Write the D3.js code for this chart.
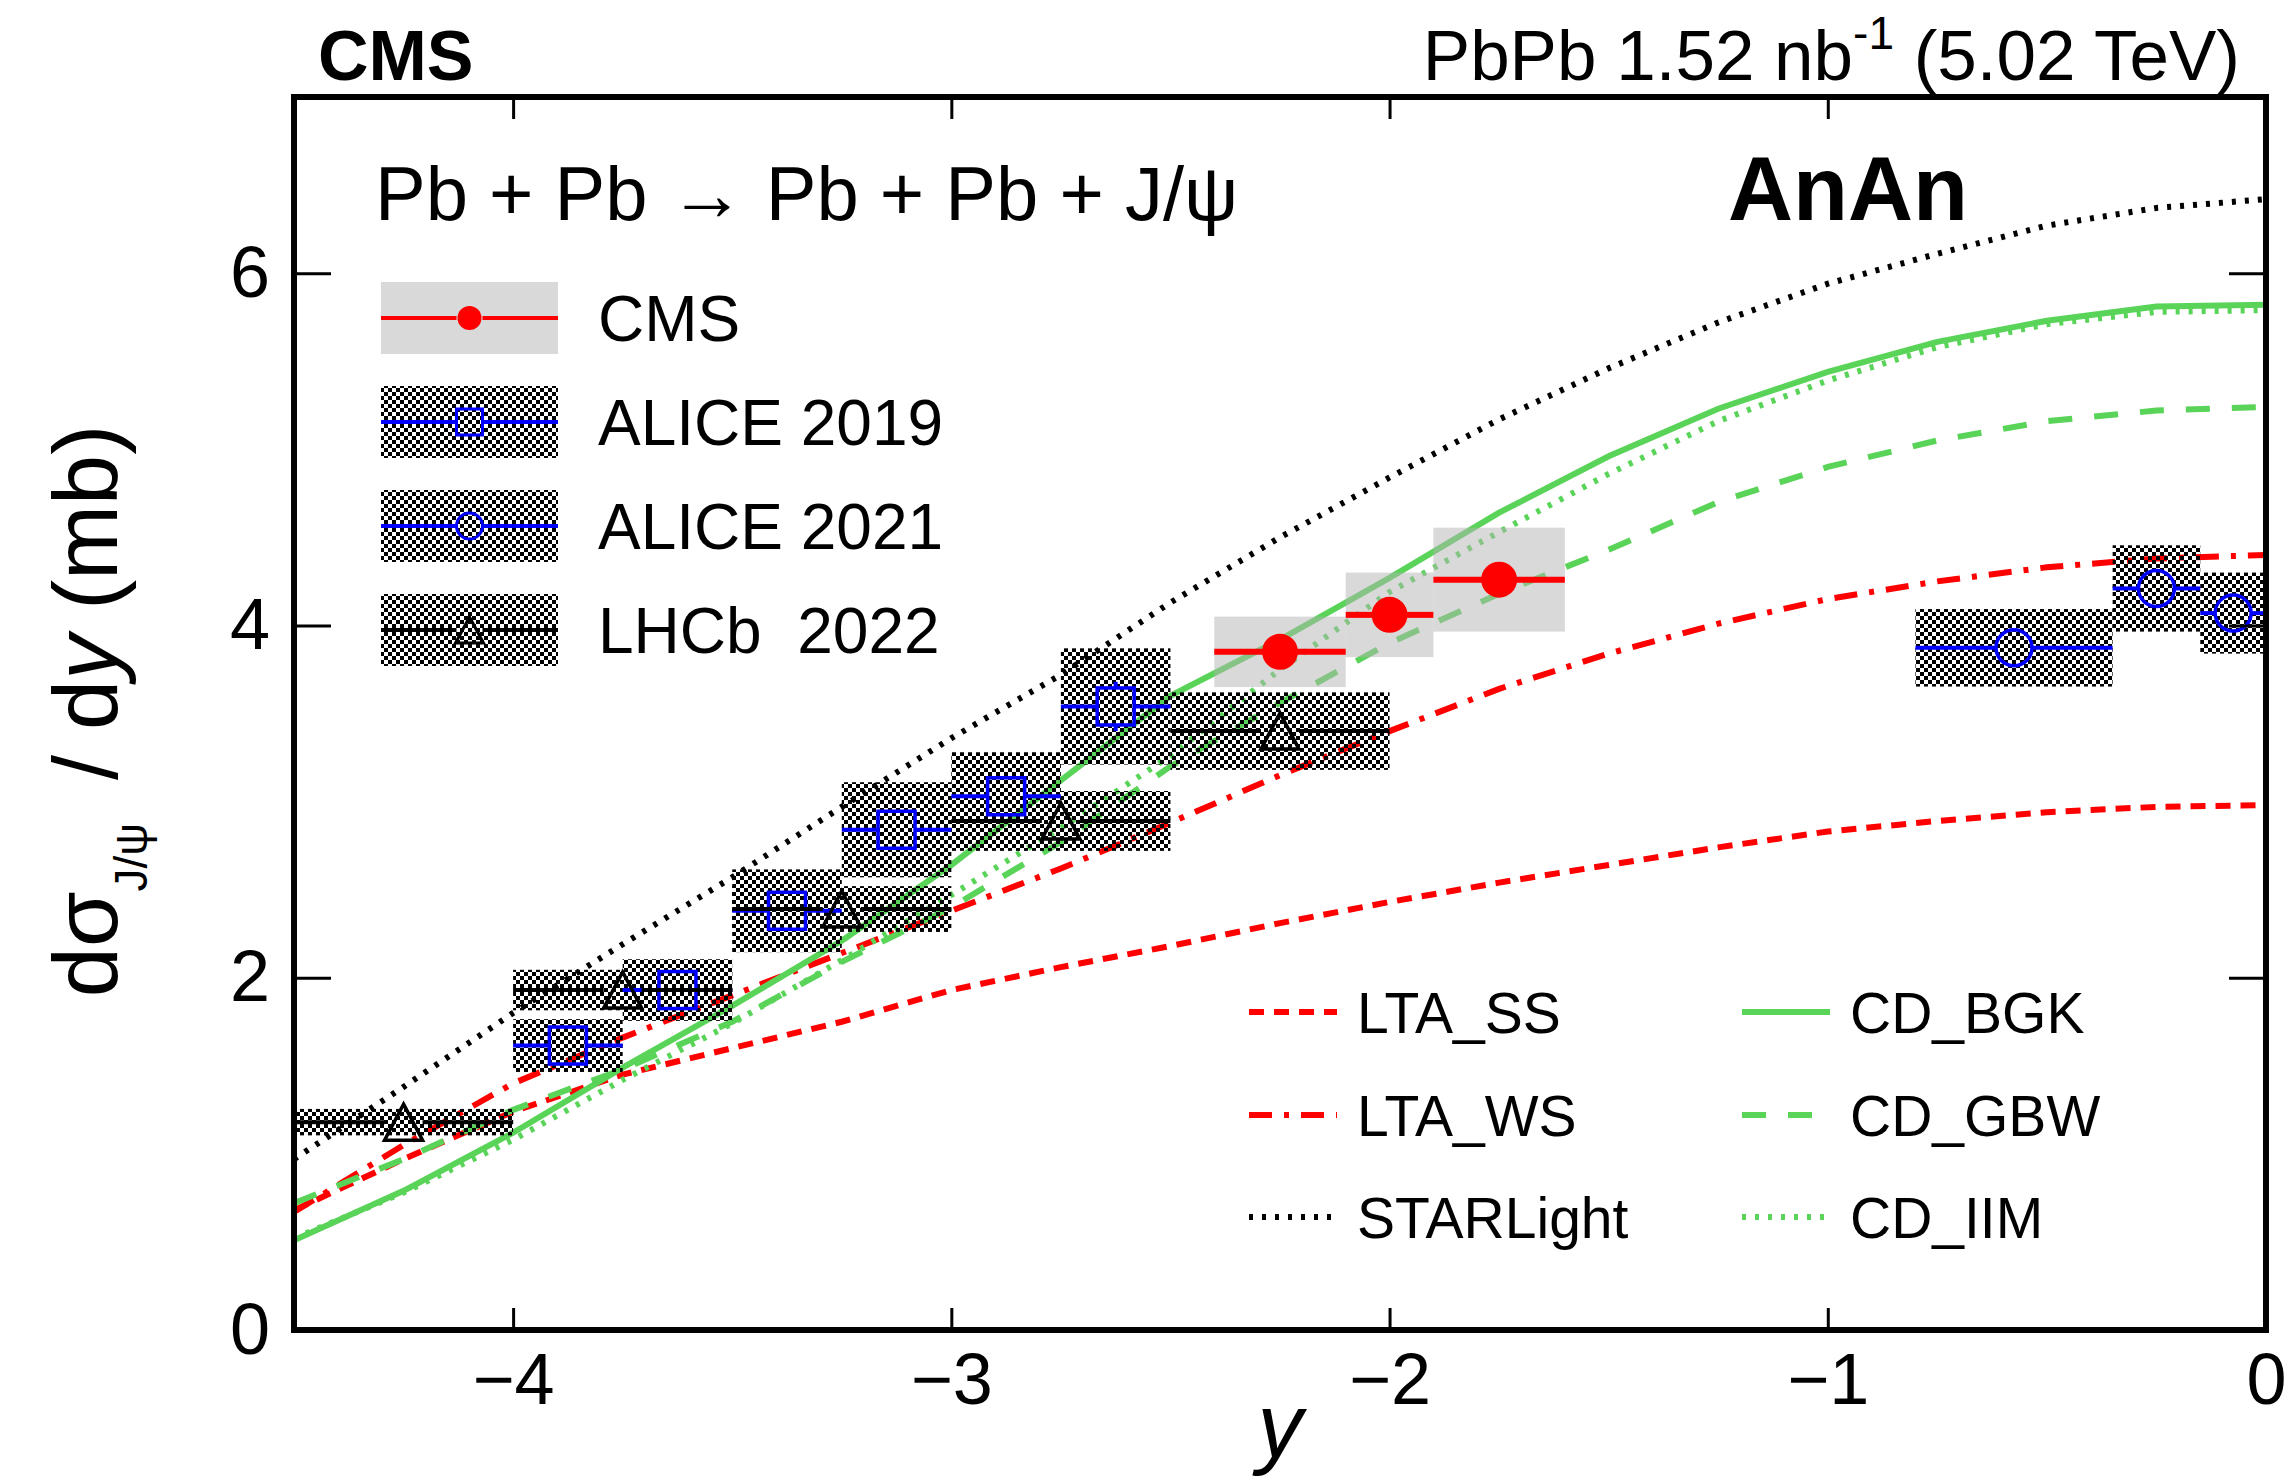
<!DOCTYPE html>
<html><head><meta charset="utf-8">
<script src="https://cdn.jsdelivr.net/npm/d3@7"></script>
<style>
body{margin:0;background:#fff}
svg{display:block}
text{font-family:"Liberation Sans",Arial,Helvetica,sans-serif;fill:#000}
</style>
</head><body>
<svg id="c" width="2291" height="1484"></svg>
<script>
// ---------------- data ----------------
const xTicks = [-4, -3, -2, -1, 0];
const yTicks = [0, 2, 4, 6];

const modelX    = [-4.5,-4.25,-4.0,-3.75,-3.5,-3.25,-3.0,-2.75,-2.5,-2.25,-2.0,-1.75,-1.5,-1.25,-1.0,-0.75,-0.5,-0.25,0];
const ltaSS     = [0.68,0.97,1.24,1.45,1.60,1.75,1.93,2.06,2.18,2.31,2.43,2.54,2.64,2.74,2.83,2.89,2.94,2.97,2.98];
const ltaWS     = [0.67,1.05,1.40,1.66,1.90,2.14,2.38,2.62,2.88,3.15,3.40,3.64,3.84,4.01,4.15,4.25,4.33,4.38,4.40];
const starlight = [0.97,1.38,1.80,2.19,2.57,2.97,3.36,3.72,4.13,4.50,4.84,5.17,5.46,5.72,5.94,6.11,6.27,6.37,6.42];
const cdBGK     = [0.51,0.79,1.12,1.49,1.84,2.21,2.64,3.12,3.60,3.92,4.27,4.64,4.96,5.23,5.44,5.61,5.73,5.81,5.82];
const cdGBW     = [0.72,0.97,1.25,1.48,1.75,2.09,2.40,2.77,3.20,3.56,3.90,4.18,4.43,4.70,4.90,5.05,5.16,5.22,5.24];
const cdIIM     = [0.52,0.78,1.08,1.42,1.74,2.10,2.47,2.85,3.26,3.75,4.19,4.53,4.86,5.16,5.39,5.58,5.71,5.78,5.79];

const cmsX    = [-2.25, -2.0, -1.75];
const cmsXlo  = [-2.4, -2.1, -1.9];
const cmsXhi  = [-2.1, -1.9, -1.6];
const cmsV    = [3.85, 4.06, 4.26];
const cmsStat = [0.07, 0.07, 0.08];
const cmsSyst = [0.20, 0.24, 0.295];

const a19X    = [-3.875, -3.625, -3.375, -3.125, -2.875, -2.625];
const a19Xlo  = [-4.0, -3.75, -3.5, -3.25, -3.0, -2.75];
const a19Xhi  = [-3.75, -3.5, -3.25, -3.0, -2.75, -2.5];
const a19V    = [1.615, 1.93, 2.38, 2.84, 3.03, 3.54];
const a19Stat = [0.08, 0.09, 0.10, 0.10, 0.10, 0.14];
const a19Syst = [0.15, 0.175, 0.235, 0.27, 0.25, 0.33];

const a21X    = [-0.575, -0.25, -0.075];
const a21Xlo  = [-0.8, -0.35, -0.15];
const a21Xhi  = [-0.35, -0.15, 0.0];
const a21V    = [3.873, 4.21, 4.07];
const a21Stat = [0.08, 0.08, 0.08];
const a21Syst = [0.22, 0.245, 0.23];

const lhcbX    = [-4.25, -3.75, -3.25, -2.75, -2.25];
const lhcbXlo  = [-4.5, -4.0, -3.5, -3.0, -2.5];
const lhcbXhi  = [-4.0, -3.5, -3.0, -2.5, -2.0];
const lhcbV    = [1.18, 1.93, 2.39, 2.89, 3.40];
const lhcbStat = [0.03, 0.04, 0.04, 0.05, 0.06];
const lhcbSyst = [0.075, 0.115, 0.13, 0.17, 0.22];

const dataLegend  = ["CMS", "ALICE 2019", "ALICE 2021", "LHCb  2022"];
const modelLegend = ["LTA_SS", "LTA_WS", "STARLight", "CD_BGK", "CD_GBW", "CD_IIM"];

// ---------------- setup ----------------
const RED = "#ff0000", BLUE = "#0000ff", GREEN = "#59d459";
const svg = d3.select("#c");
const L = 294, R = 2266, T = 97, B = 1330;
const x = d3.scaleLinear().domain([-4.5, 0]).range([L, R]);
const y = d3.scaleLinear().domain([0, 7]).range([B, T]);

const defs = svg.append("defs");
defs.append("clipPath").attr("id", "clip").append("rect")
  .attr("x", L).attr("y", T).attr("width", R - L).attr("height", B - T);
const pat = defs.append("pattern").attr("id", "checker").attr("patternUnits", "userSpaceOnUse")
  .attr("width", 8).attr("height", 8);
pat.append("rect").attr("x", 0).attr("y", 0).attr("width", 4).attr("height", 4).attr("fill", "#000");
pat.append("rect").attr("x", 4).attr("y", 4).attr("width", 4).attr("height", 4).attr("fill", "#000");

const plot = svg.append("g").attr("clip-path", "url(#clip)");

// ---------------- model curves ----------------
const models = [
  {name: "LTA_SS",    vals: ltaSS,     color: RED,   dash: "15 10"},
  {name: "LTA_WS",    vals: ltaWS,     color: RED,   dash: "23 12 5 12"},
  {name: "STARLight", vals: starlight, color: "#000", dash: "4 9"},
  {name: "CD_BGK",    vals: cdBGK,     color: GREEN, dash: null},
  {name: "CD_GBW",    vals: cdGBW,     color: GREEN, dash: "24 22"},
  {name: "CD_IIM",    vals: cdIIM,     color: GREEN, dash: "4 9"}
];
const line = d3.line().x((d, i) => x(modelX[i])).y(d => y(d));
models.forEach(m => {
  plot.append("path").attr("d", line(m.vals)).attr("fill", "none")
    .attr("stroke", m.color).attr("stroke-width", 6)
    .attr("stroke-dasharray", m.dash);
});

// ---------------- syst boxes ----------------
function boxes(X, lo, hi, V, S, fill, op) {
  X.forEach((_, i) => {
    plot.append("rect")
      .attr("x", x(lo[i])).attr("width", x(hi[i]) - x(lo[i]))
      .attr("y", y(V[i] + S[i])).attr("height", y(V[i] - S[i]) - y(V[i] + S[i]))
      .attr("fill", fill).attr("fill-opacity", op);
  });
}
boxes(a19X, a19Xlo, a19Xhi, a19V, a19Syst, "url(#checker)", 1);
boxes(a21X, a21Xlo, a21Xhi, a21V, a21Syst, "url(#checker)", 1);
boxes(lhcbX, lhcbXlo, lhcbXhi, lhcbV, lhcbSyst, "url(#checker)", 1);
boxes(cmsX, cmsXlo, cmsXhi, cmsV, cmsSyst, "#b3b3b3", 0.5);

// ---------------- error bars + markers ----------------
function errs(X, lo, hi, V, St, color, w, half) {
  X.forEach((xv, i) => {
    const cx = x(xv), cy = y(V[i]);
    plot.append("line").attr("x1", x(lo[i])).attr("x2", cx - half).attr("y1", cy).attr("y2", cy)
      .attr("stroke", color).attr("stroke-width", w);
    plot.append("line").attr("x1", cx + half).attr("x2", x(hi[i])).attr("y1", cy).attr("y2", cy)
      .attr("stroke", color).attr("stroke-width", w);
    const up = y(V[i] + St[i]), dn = y(V[i] - St[i]);
    if (cy - up > half) {
      plot.append("line").attr("x1", cx).attr("x2", cx).attr("y1", up).attr("y2", cy - half)
        .attr("stroke", color).attr("stroke-width", w);
      plot.append("line").attr("x1", cx).attr("x2", cx).attr("y1", cy + half).attr("y2", dn)
        .attr("stroke", color).attr("stroke-width", w);
    }
  });
}
function square(g, cx, cy, s, color, w) {
  g.append("rect").attr("x", cx - s / 2).attr("y", cy - s / 2).attr("width", s).attr("height", s)
    .attr("fill", "none").attr("stroke", color).attr("stroke-width", w);
}
function circle(g, cx, cy, r, color, w, filled) {
  g.append("circle").attr("cx", cx).attr("cy", cy).attr("r", r)
    .attr("fill", filled ? color : "none").attr("stroke", filled ? "none" : color).attr("stroke-width", w);
}
function tri(g, cx, cy, s, h, color, w) {
  g.append("path").attr("d", `M${cx},${cy - h / 2}L${cx + s / 2},${cy + h / 2}L${cx - s / 2},${cy + h / 2}Z`)
    .attr("fill", "none").attr("stroke", color).attr("stroke-width", w).attr("stroke-linejoin", "miter");
}

errs(a19X, a19Xlo, a19Xhi, a19V, a19Stat, BLUE, 4, 19);
a19X.forEach((xv, i) => square(plot, x(xv), y(a19V[i]), 37, BLUE, 3.5));
errs(a21X, a21Xlo, a21Xhi, a21V, a21Stat, BLUE, 4, 19);
a21X.forEach((xv, i) => circle(plot, x(xv), y(a21V[i]), 18, BLUE, 3.5, false));
errs(lhcbX, lhcbXlo, lhcbXhi, lhcbV, lhcbStat, "#000", 4, 19);
lhcbX.forEach((xv, i) => tri(plot, x(xv), y(lhcbV[i]), 38, 36, "#000", 3.5));
errs(cmsX, cmsXlo, cmsXhi, cmsV, cmsStat, RED, 6, 17);
cmsX.forEach((xv, i) => circle(plot, x(xv), y(cmsV[i]), 18, RED, 0, true));

// ---------------- axes ----------------
const fmt = d => d === 0 ? "0" : "\u2212" + Math.abs(d);
const gx = svg.append("g").attr("transform", `translate(0,${B})`)
  .call(d3.axisBottom(x).tickValues(xTicks).tickSize(-22).tickPadding(23).tickFormat(fmt));
const gxt = svg.append("g").attr("transform", `translate(0,${T})`)
  .call(d3.axisTop(x).tickValues(xTicks).tickSize(-22).tickFormat(""));
const gy = svg.append("g").attr("transform", `translate(${L},0)`)
  .call(d3.axisLeft(y).tickValues(yTicks).tickSize(-37).tickPadding(24).tickFormat(d3.format("d")));
const gyr = svg.append("g").attr("transform", `translate(${R},0)`)
  .call(d3.axisRight(y).tickValues(yTicks).tickSize(-37).tickFormat(""));
[gx, gxt, gy, gyr].forEach(g => {
  g.select(".domain").remove();
  g.selectAll(".tick line").attr("stroke", "#000").attr("stroke-width", 3);
  g.selectAll(".tick text").attr("font-size", 72).attr("font-family", "Liberation Sans, Arial, sans-serif").attr("fill", "#000");
});

svg.append("rect").attr("x", L).attr("y", T).attr("width", R - L).attr("height", B - T)
  .attr("fill", "none").attr("stroke", "#000").attr("stroke-width", 6);

// axis titles
svg.append("text").attr("x", x(-2.25)).attr("y", 1457).attr("text-anchor", "middle")
  .attr("font-size", 90).attr("font-style", "italic").text("y");

const yt = svg.append("text").attr("transform", "translate(117,711) rotate(-90)")
  .attr("text-anchor", "middle").attr("font-size", 90);
yt.append("tspan").text("d\u03c3");
yt.append("tspan").attr("font-size", 46).attr("dy", 30).text("J/\u03c8");
yt.append("tspan").attr("dy", -30).text("\u2009 / d");
yt.append("tspan").attr("font-style", "italic").text("y");
yt.append("tspan").text(" (mb)");

// header
svg.append("text").attr("x", 318).attr("y", 80).attr("font-size", 70).attr("font-weight", "bold").text("CMS");
const hdr = svg.append("text").attr("x", 2240).attr("y", 80).attr("font-size", 71).attr("text-anchor", "end");
hdr.append("tspan").text("PbPb 1.52 nb");
hdr.append("tspan").attr("font-size", 46).attr("dy", -31).text("-1");
hdr.append("tspan").attr("dy", 31).text(" (5.02 TeV)");

svg.append("text").attr("x", 375).attr("y", 220).attr("font-size", 76)
  .text("Pb + Pb \u2192 Pb + Pb + J/\u03c8");
svg.append("text").attr("x", 1728).attr("y", 220).attr("font-size", 90).attr("font-weight", "bold").text("AnAn");

// ---------------- data legend ----------------
const legRowsY = [318, 422, 526, 630];
const lg = svg.append("g");
dataLegend.forEach((name, i) => {
  const cy = legRowsY[i], bx = 381, bw = 177, bh = 72, cx = bx + bw / 2;
  lg.append("rect").attr("x", bx).attr("y", cy - bh / 2).attr("width", bw).attr("height", bh)
    .attr("fill", i === 0 ? "#b3b3b3" : "url(#checker)").attr("fill-opacity", i === 0 ? 0.5 : 1);
  const col = i === 0 ? RED : (i === 3 ? "#000" : BLUE);
  const half = 13;
  lg.append("line").attr("x1", bx).attr("x2", cx - half).attr("y1", cy).attr("y2", cy).attr("stroke", col).attr("stroke-width", 4);
  lg.append("line").attr("x1", cx + half).attr("x2", bx + bw).attr("y1", cy).attr("y2", cy).attr("stroke", col).attr("stroke-width", 4);
  if (i === 0) circle(lg, cx, cy, 12, RED, 0, true);
  if (i === 1) square(lg, cx, cy, 26, BLUE, 3);
  if (i === 2) circle(lg, cx, cy, 13, BLUE, 3, false);
  if (i === 3) tri(lg, cx, cy, 28, 26, "#000", 3);
  lg.append("text").attr("x", 598).attr("y", cy + 23).attr("font-size", 64)
    .style("white-space", "pre").text(name);
});

// ---------------- model legend ----------------
const mlRowsY = [1012, 1115, 1217];
const mlColX = [1249, 1742];
models.forEach((m, i) => {
  const col = Math.floor(i / 3), row = i % 3;
  const x0 = mlColX[col], cy = mlRowsY[row];
  svg.append("line").attr("x1", x0).attr("x2", x0 + 88).attr("y1", cy).attr("y2", cy)
    .attr("stroke", m.color).attr("stroke-width", 6).attr("stroke-dasharray", m.dash);
  svg.append("text").attr("x", x0 + 108).attr("y", cy + 21).attr("font-size", 57).text(modelLegend[i]);
});
</script>
</body></html>
